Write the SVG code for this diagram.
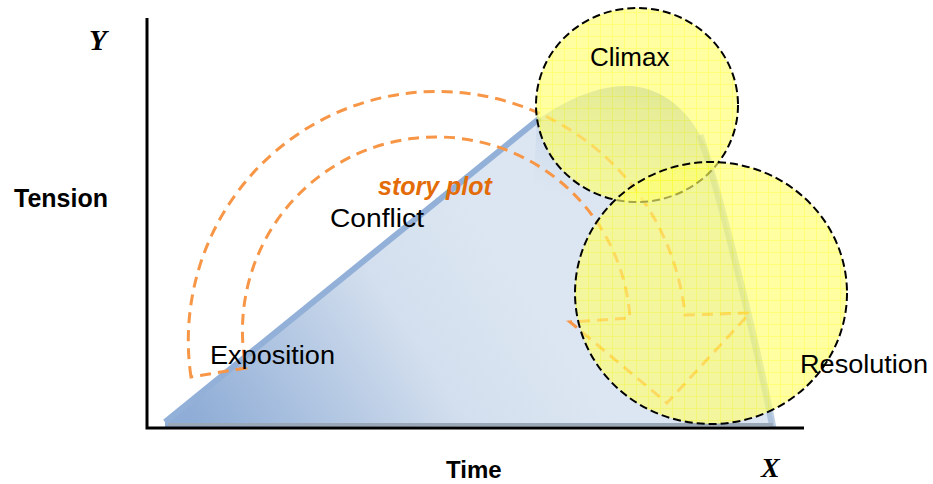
<svg xmlns="http://www.w3.org/2000/svg" width="933" height="484" viewBox="0 0 933 484">
<defs>
<linearGradient id="blueGrad" gradientUnits="userSpaceOnUse" x1="210" y1="440" x2="500" y2="250">
<stop offset="0" stop-color="#8fadd6"/>
<stop offset="0.65" stop-color="#d3dfee"/>
<stop offset="1" stop-color="#dce6f2"/>
</linearGradient>
<linearGradient id="peakGrad" gradientUnits="userSpaceOnUse" x1="630" y1="86" x2="600" y2="220">
<stop offset="0" stop-color="#9fb6d6" stop-opacity="0.8"/>
<stop offset="1" stop-color="#dce6f2" stop-opacity="0"/>
</linearGradient>
<pattern id="grid" width="12" height="12" patternUnits="userSpaceOnUse">
<rect width="12" height="12" fill="#ffff70"/>
<path d="M0,0.5 H12 M0.5,0 V12" stroke="#ffff30" stroke-width="1"/>
</pattern>
<style>
.lbl{font-family:"Liberation Sans",Arial,sans-serif;font-size:26px;fill:#000}
.axl{font-family:"Liberation Sans",Arial,sans-serif;font-size:25px;font-weight:bold;fill:#000}
.var{font-family:"Liberation Serif","Times New Roman",serif;font-weight:bold;font-style:italic;fill:#000}
.circ{fill:url(#grid);fill-opacity:0.65;stroke:#000;stroke-width:2;stroke-dasharray:8 4}
.axis{stroke:#000;stroke-width:3;fill:none}
</style>
</defs>
<rect width="933" height="484" fill="#fff"/>

<g id="tension-curve">
<path d="M165,422 L537,120 C570,97 600,86 627,86 C662,86 692,112 707,150 C722,200 758,350 775,428 L165,428 Z" fill="url(#blueGrad)"/>
<path d="M537,120 C570,97 600,86 627,86 C662,86 692,112 707,150 C715,175 722,205 730,240 L530,240 Z" fill="url(#peakGrad)"/>
<path d="M165,422 L540,118" fill="none" stroke="#93b1d8" stroke-width="6"/>
<path d="M700,135 C722,200 758,350 773,428" fill="none" stroke="#8ba7cb" stroke-opacity="0.55" stroke-width="7"/>
<rect x="168" y="423" width="605" height="3" fill="#9aa8b8"/>
</g>

<g id="story-plot-arrow">
<path d="M191,377 A249,249 0 1 1 685,315 L750,313 L667,403 L570,322 L630,318 A194,194 0 1 0 246,368 Z" fill="none" stroke="#f79646" stroke-width="3" stroke-dasharray="11 7"/>
</g>

<g id="climax">
<ellipse cx="637" cy="105" rx="101" ry="97" class="circ"/>
<text x="590" y="66" class="lbl">Climax</text>
</g>

<g id="resolution">
<ellipse cx="711" cy="293" rx="136" ry="131" class="circ"/>
<text x="800" y="373" class="lbl" textLength="128" lengthAdjust="spacingAndGlyphs">Resolution</text>
</g>

<g id="axes">
<path d="M147,18 L147,428 L804,428" class="axis"/>
<text x="89" y="50" class="var" style="font-size:29px">Y</text>
<text x="761" y="477" class="var" style="font-size:28px">X</text>
<text x="14" y="207" class="axl">Tension</text>
<text x="446" y="478" class="axl" style="font-size:24px">Time</text>
</g>

<g id="labels">
<text x="378" y="195" font-family="'Liberation Sans',Arial,sans-serif" font-size="25" font-weight="bold" font-style="italic" fill="#e36c09">story plot</text>
<text x="330" y="227" class="lbl" textLength="94" lengthAdjust="spacingAndGlyphs">Conflict</text>
<text x="210" y="364" class="lbl" textLength="125" lengthAdjust="spacingAndGlyphs">Exposition</text>
</g>
</svg>
